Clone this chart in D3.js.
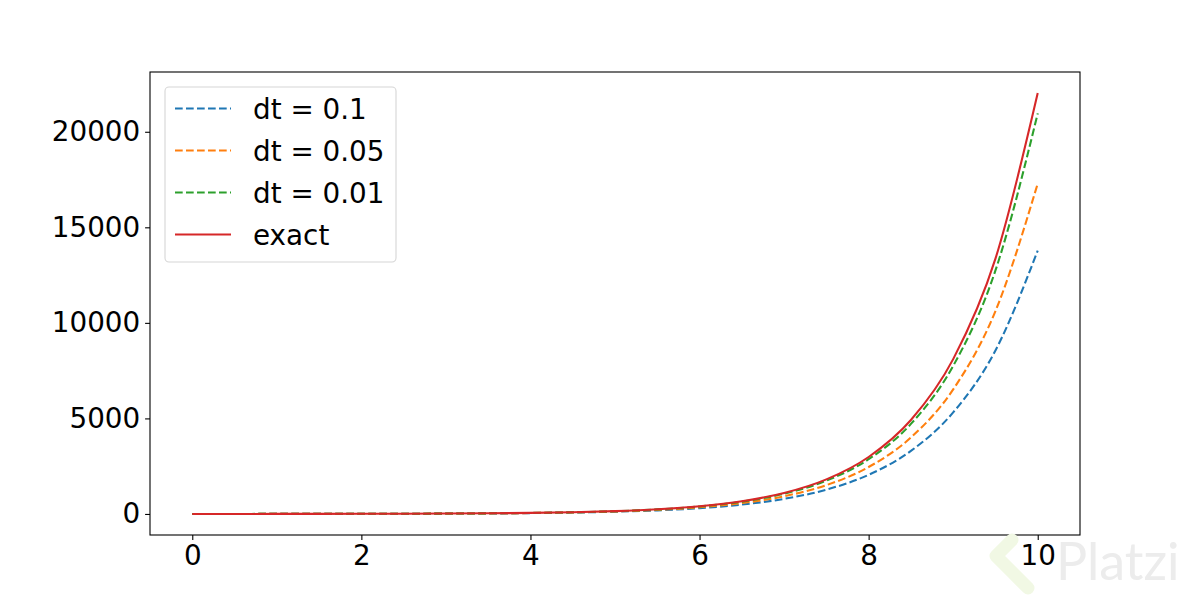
<!DOCTYPE html>
<html><head><meta charset="utf-8">
<script src="https://cdn.jsdelivr.net/npm/d3@7"></script>
<style>body{margin:0;background:#fff;} svg{display:block;font-family:"DejaVu Sans",sans-serif;}</style>
</head><body>
<svg id="c" width="1200" height="600"></svg>
<script>
const xs = [0,0.5,1,1.5,2,2.5,3,3.5,4,4.5,5,5.5,6,6.5,7,7.5,8,8.5,9,9.5,10];
const dt01 = [1,1.61,2.59,4.18,6.73,10.83,17.45,28.1,45.26,72.9,117.4,189.1,304.5,490.3,789.7,1271.8,2048.4,3298.8,5313,8556,13780.6];
const dt005 = [1,1.63,2.65,4.32,7.04,11.47,18.68,30.43,49.56,80.73,131.5,214.2,348.9,568.4,925.8,1507.9,2456.2,4001,6517,10616,17292];
const dt001 = [1,1.645,2.705,4.448,7.316,12.03,19.79,32.55,53.52,88.02,144.8,238.1,391.6,644.0,1059.1,1741.8,2865,4711.7,7748.8,12744,20959];
const exact = [1,1.65,2.72,4.48,7.39,12.18,20.09,33.12,54.6,90.0,148.4,244.7,403.4,665.1,1096.6,1808.0,2981.0,4914.8,8103.1,13359.7,22026.5];
const seriesNames = ["dt = 0.1","dt = 0.05","dt = 0.01","exact"];
const seriesColors = ["#1f77b4","#ff7f0e","#2ca02c","#d62728"];
const seriesDashed = [true,true,true,false];
const xTicks = [0,2,4,6,8,10];
const yTicks = [0,5000,10000,15000,20000];

const svg = d3.select("#c");
const L=150,R=1080,T=72,B=535;
const x = d3.scaleLinear().domain([-0.5,10.5]).range([L,R]);
const y = d3.scaleLinear().domain([-1101.3,23127.8]).range([B,T]);
const series = [dt01,dt005,dt001,exact];
const FS = 27.8;

const g = svg.append("g");
const line = d3.line().x((d,i)=>x(xs[i])).y(d=>y(d)).curve(d3.curveMonotoneX);
series.forEach((s,k)=>{
  g.append("path").attr("d",line(s)).attr("fill","none")
   .attr("stroke",seriesColors[k]).attr("stroke-width",2.08)
   .attr("stroke-dasharray",seriesDashed[k]?"7.7,3.3":null);
});

// axes
const xa = svg.append("g").attr("transform",`translate(0,${B})`)
  .call(d3.axisBottom(x).tickValues(xTicks).tickSize(4.9).tickPadding(4.9).tickFormat(d3.format("d")));
const ya = svg.append("g").attr("transform",`translate(${L},0)`)
  .call(d3.axisLeft(y).tickValues(yTicks).tickSize(4.9).tickPadding(4.9).tickFormat(d3.format("d")));
[xa,ya].forEach(a=>{
  a.select(".domain").remove();
  a.selectAll("line").attr("stroke","#000").attr("stroke-width",1.1);
  a.selectAll("text").attr("font-size",FS).attr("fill","#000").attr("font-family","DejaVu Sans");
});
svg.append("rect").attr("x",L).attr("y",T).attr("width",R-L).attr("height",B-T)
  .attr("fill","none").attr("stroke","#000").attr("stroke-width",1.1);

// legend
const lg = svg.append("g");
lg.append("rect").attr("x",165).attr("y",87).attr("width",231).attr("height",175).attr("rx",4)
  .attr("fill","#fff").attr("fill-opacity",0.8).attr("stroke","#d6d6d6").attr("stroke-width",1.1);
seriesNames.forEach((n,k)=>{
  const yy = 108.5 + k*42;
  lg.append("line").attr("x1",175).attr("x2",231).attr("y1",yy).attr("y2",yy)
    .attr("stroke",seriesColors[k]).attr("stroke-width",2.08)
    .attr("stroke-dasharray",seriesDashed[k]?"7.7,3.3":null);
  lg.append("text").attr("x",253).attr("y",yy).attr("dy","0.36em").attr("font-size",FS).text(n);
});

// watermark
const wm = svg.append("g");
wm.append("path").attr("d","M1012,540 L996,556 L1012,572 L1028,588")
  .attr("fill","none").attr("stroke","#f1f8e4").attr("stroke-width",13).attr("stroke-linejoin","round").attr("stroke-linecap","round");
wm.append("text").attr("x",1056).attr("y",580).attr("font-size",52).attr("font-family","Lato, sans-serif")
  .attr("fill","#ececec").text("Platzi");
</script>
</body></html>
